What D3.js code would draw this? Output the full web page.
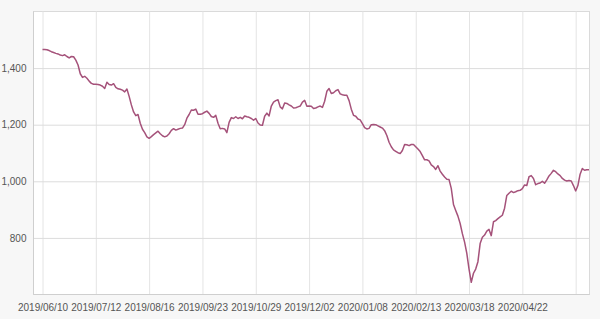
<!DOCTYPE html>
<html>
<head>
<meta charset="utf-8">
<script src="https://cdn.jsdelivr.net/npm/d3@7"></script>
<style>
  body { margin: 0; background: #f7f7f7; }
  svg text { font-family: "Liberation Sans Narrow", "Liberation Sans", Arial, sans-serif; }
</style>
</head>
<body>
<div class="chart"></div>
<script>
// daily closing values, one per trading day starting 2019/06/10
let values = [
  1466, 1466, 1465, 1462, 1458, 1455, 1452, 1450, 1446, 1444,
  1447, 1441, 1436, 1441, 1440, 1428, 1411, 1380, 1367, 1371,
  1364, 1354, 1346, 1343, 1343, 1342, 1340, 1336, 1328, 1350,
  1342, 1340, 1345, 1332, 1327, 1325, 1322, 1316, 1326, 1300,
  1270, 1245, 1232, 1236, 1205, 1184, 1172, 1157, 1152, 1158,
  1165, 1171, 1177, 1168, 1161, 1157, 1160, 1168, 1180, 1186,
  1181, 1184, 1187, 1188, 1200, 1223, 1236, 1252, 1251, 1255,
  1237, 1237, 1239, 1244, 1248, 1240, 1229, 1226, 1233, 1205,
  1186, 1187, 1185, 1172, 1208, 1225, 1222, 1228, 1222, 1226,
  1221, 1231, 1228, 1226, 1222, 1216, 1222, 1206, 1199, 1198,
  1230, 1241, 1231, 1266, 1280, 1285, 1288, 1263, 1256, 1277,
  1275, 1270, 1266, 1259, 1260, 1263, 1266, 1280, 1286, 1265,
  1266, 1265, 1257, 1259, 1263, 1266, 1261, 1283, 1318, 1328,
  1310, 1313, 1320, 1324, 1309, 1306, 1304, 1304, 1285, 1255,
  1233, 1230, 1220, 1217, 1204, 1190, 1185, 1187, 1200, 1201,
  1200, 1196, 1192, 1188, 1179, 1162, 1138, 1122, 1111, 1106,
  1101, 1098, 1109, 1130, 1129, 1126, 1130, 1130, 1122, 1114,
  1105, 1091, 1076, 1076, 1072, 1058, 1052, 1042, 1055, 1036,
  1025, 1015, 1007, 1006, 975, 918, 897, 877, 851, 815,
  785, 745, 690, 643, 675, 690, 716, 780, 802, 810,
  824, 830, 808, 857, 861, 868, 874, 880, 905, 950,
  958, 965, 960, 963, 967, 968, 974, 987, 985, 1016,
  1020, 1010, 988, 992, 994, 1000, 993, 1005, 1019, 1028,
  1039, 1034, 1026, 1020, 1010, 1004, 1001, 1003, 1001, 985,
  966, 985, 1025, 1045, 1039, 1041, 1041
]

// a label every 24 trading days (the last one is not shown)
let tickLabels = [
  '2019/06/10', '2019/07/12', '2019/08/16', '2019/09/23', '2019/10/29',
  '2019/12/02', '2020/01/08', '2020/02/13', '2020/03/18', '2020/04/22', ''
]
let tickEvery = 24
let yTicks = [800, 1000, 1200, 1400]

var margin = { top: 11.5, right: 10.5, bottom: 24.5, left: 33.5 };
var width = 600 - margin.left - margin.right;
var height = 319 - margin.top - margin.bottom;

let svg = d3.select('.chart')
    .append('svg')
    .attr('width', 600)
    .attr('height', 319)
    .style('display', 'block')

svg.append('rect')
    .attr('width', 600)
    .attr('height', 319)
    .attr('fill', '#f7f7f7')

let g = svg.append('g')
    .attr('transform', `translate(${margin.left},${margin.top})`)

g.append('rect')
    .attr('width', width)
    .attr('height', height)
    .attr('fill', '#fff')
    .attr('stroke', '#dadada')

var xScale = d3.scaleLinear()
    .domain([0, values.length - 1])
    .range([9, width - 0.5]);

var yScale = d3.scaleLinear()
    .domain([600, 1600])
    .range([height, 0]);

//x gridlines + labels
var xAxis = d3.axisBottom(xScale)
    .tickValues(tickLabels.map((d, i) => i * tickEvery))
    .tickFormat((d, i) => tickLabels[i])
    .tickSize(-height)
    .tickPadding(9);

g.append('g')
    .attr('transform', `translate(0, ${height})`)
    .call(xAxis)
    .call(a => a.select('.domain').remove())
    .call(a => a.selectAll('line').attr('stroke', '#e4e4e4'))
    .call(a => a.selectAll('text').attr('fill', '#555').style('font-size', '10px'))

//y gridlines + labels
var yAxis = d3.axisLeft(yScale)
    .tickValues(yTicks)
    .tickFormat(d3.format(','))
    .tickSize(-width)
    .tickPadding(7);

g.append('g')
    .call(yAxis)
    .call(a => a.select('.domain').remove())
    .call(a => a.selectAll('line').attr('stroke', '#dcdcdc'))
    .call(a => a.selectAll('text').attr('fill', '#555').style('font-size', '10px'))

// left and bottom axis lines
g.append('line')
    .attr('x1', 0).attr('x2', 0)
    .attr('y1', 0).attr('y2', height)
    .attr('stroke', '#cfcfcf')
g.append('line')
    .attr('x1', 0).attr('x2', width)
    .attr('y1', height).attr('y2', height)
    .attr('stroke', '#cfcfcf')

let line = d3.line()
    .x((d, i) => xScale(i))
    .y(d => yScale(d))

g.append('path')
    .datum(values)
    .attr('fill', 'none')
    .attr('stroke', '#a5527a')
    .attr('stroke-width', 1.5)
    .attr('stroke-linejoin', 'round')
    .attr('d', line)
</script>
</body>
</html>
